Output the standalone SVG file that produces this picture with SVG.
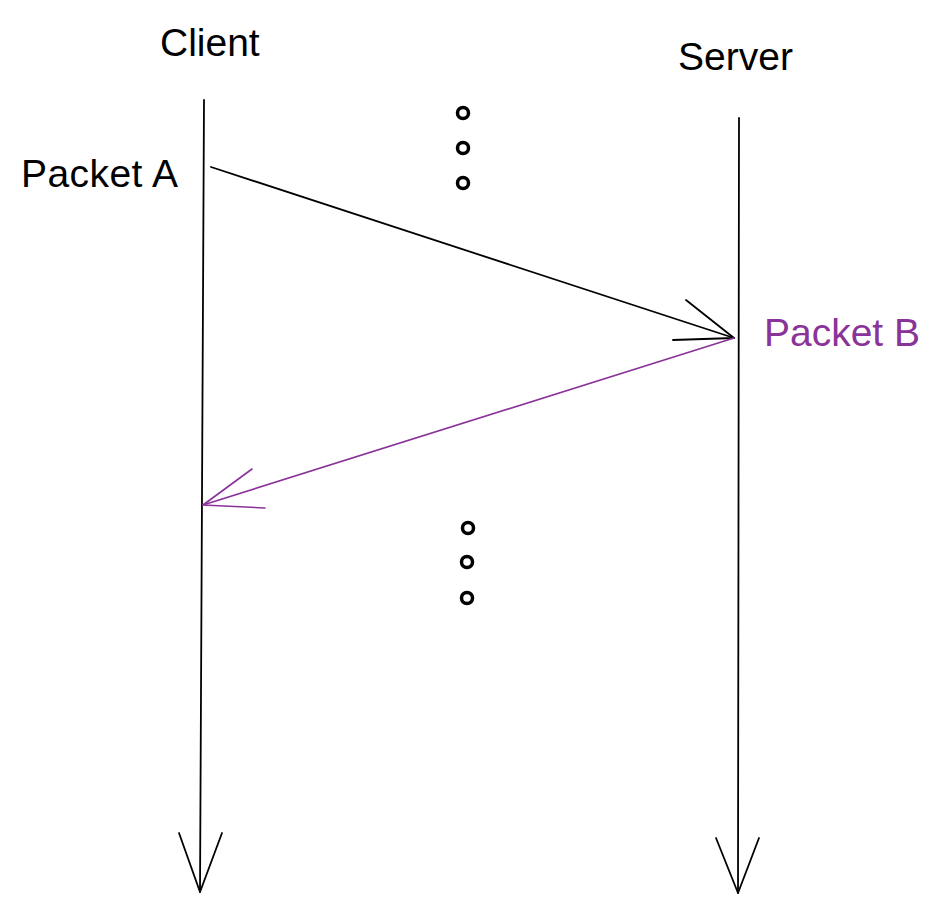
<svg xmlns="http://www.w3.org/2000/svg" width="944" height="914" viewBox="0 0 944 914">
<style>
.t{font-family:"Liberation Sans",Arial,sans-serif;font-size:39px;fill:#000}
.p{fill:#8a3399}
.k{stroke:#000;stroke-width:1.8;fill:none;stroke-linecap:round;stroke-linejoin:round}
.m{stroke:#8a3399;stroke-width:1.6;fill:none;stroke-linecap:round;stroke-linejoin:round}
.d{stroke:#000;stroke-width:3.5;fill:none}
</style>
<rect width="944" height="914" fill="#fff"/>
<g id="client">
<text class="t" x="160" y="56">Client</text>
<path class="k" d="M204 100 L200 892"/>
<path class="k" d="M179 833 L200 892 L222 833"/>
</g>
<g id="server">
<text class="t" x="678" y="70">Server</text>
<path class="k" d="M739 118 L738 893"/>
<path class="k" d="M716 838 L738 893 L759 838"/>
</g>
<g id="packetA">
<text class="t" x="21" y="187" textLength="157">Packet A</text>
</g>
<g id="packetB">
<text class="t p" x="764" y="346" textLength="156">Packet B</text>
</g>
<g id="dots-top">
<circle class="d" cx="463" cy="113" r="5.5"/>
<circle class="d" cx="463" cy="148" r="5.5"/>
<circle class="d" cx="463" cy="183" r="5.5"/>
</g>
<g id="dots-bottom">
<circle class="d" cx="468" cy="528" r="5.5"/>
<circle class="d" cx="467" cy="562" r="5.5"/>
<circle class="d" cx="467" cy="598" r="5.5"/>
</g>
<g id="connectors">
<path class="k" d="M211 167 L734 338"/>
<path class="k" d="M686 300 L734 338 L673 340"/>
<path class="m" d="M734 338 L203 505"/>
<path class="m" d="M252 469 L203 505 L265 508"/>
</g>
</svg>
